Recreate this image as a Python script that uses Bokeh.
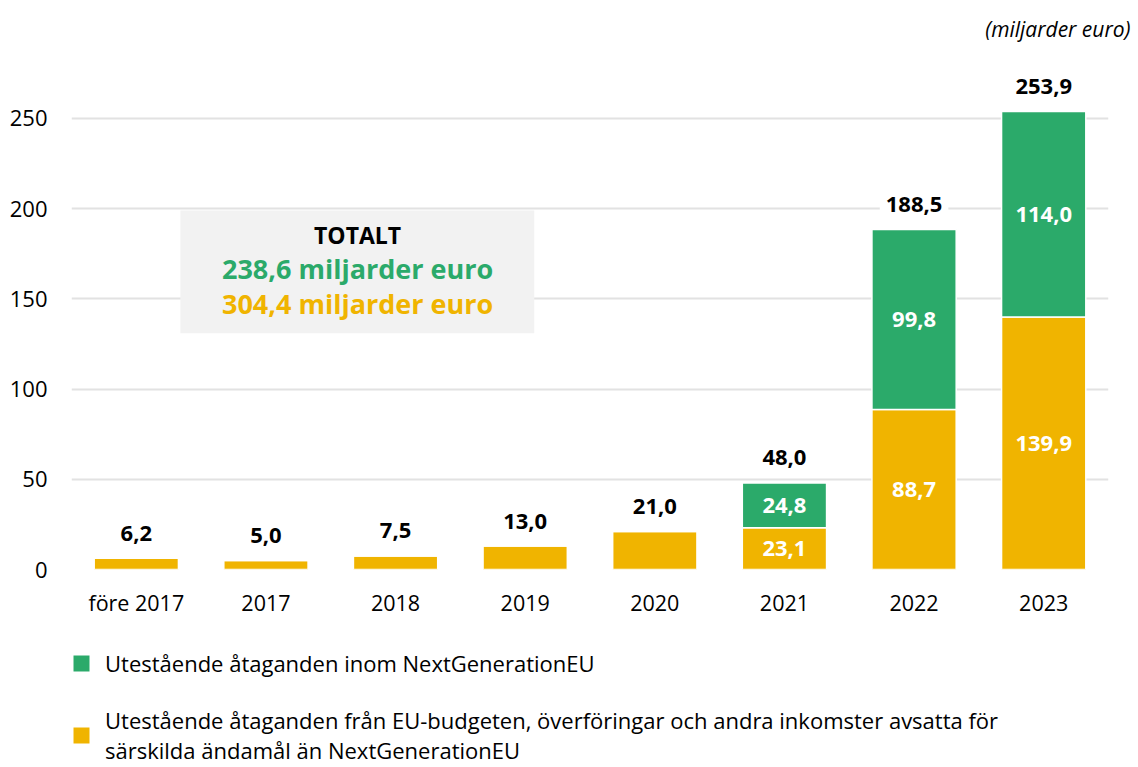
from bokeh.plotting import figure
from bokeh.layouts import column
from bokeh.models import (ColumnDataSource, FactorRange, Range1d, Legend, LegendItem,
                          FixedTicker)
from bokeh.core.properties import value
from bokeh.embed import file_html
from bokeh.resources import INLINE

# ---------------- data ----------------
categories = ["före 2017", "2017", "2018", "2019", "2020", "2021", "2022", "2023"]
budget = [6.2, 5.0, 7.5, 13.0, 21.0, 23.1, 88.7, 139.9]   # EU-budget etc. (yellow)
ngeu = [0.0, 0.0, 0.0, 0.0, 0.0, 24.8, 99.8, 114.0]       # NextGenerationEU (green)
totals = [6.2, 5.0, 7.5, 13.0, 21.0, 48.0, 188.5, 253.9]
y_ticks = [0, 50, 100, 150, 200, 250]
legend_labels = [
    "Utestående åtaganden inom NextGenerationEU",
    "Utestående åtaganden från EU-budgeten, överföringar och andra inkomster avsatta för\n"
    "särskilda ändamål än NextGenerationEU",
]
unit_label = "(miljarder euro)"

GREEN = "#2BAA6A"
YELLOW = "#F0B400"
FONT = "Open Sans"


def fmt(v):
    return f"{v:.1f}".replace(".", ",")


src = ColumnDataSource(dict(cat=categories, budget=budget, ngeu=ngeu))

p = figure(x_range=FactorRange(*categories), y_range=Range1d(0, 288.8),
           width=1138, height=628, output_backend="svg", toolbar_location=None,
           min_border_left=71, min_border_right=30, min_border_top=48,
           min_border_bottom=59)
p.x_range.range_padding = 0
p.outline_line_color = None
p.background_fill_color = "white"

p.title.text = unit_label
p.title.align = "right"
p.title.offset = -22
p.title.standoff = 11
p.title.text_font = FONT
p.title.text_font_style = "italic"
p.title.text_font_size = "21px"
p.title.text_color = "black"

p.vbar_stack(["budget", "ngeu"], x="cat", width=0.65, color=[YELLOW, GREEN],
             source=src, line_color="white", line_width=1.5)

# inner labels (only for stacked years)
idx = [i for i, v in enumerate(ngeu) if v > 0]
inner_b = ColumnDataSource(dict(cat=[categories[i] for i in idx],
                                y=[budget[i] / 2 for i in idx],
                                t=[fmt(budget[i]) for i in idx]))
inner_n = ColumnDataSource(dict(cat=[categories[i] for i in idx],
                                y=[budget[i] + ngeu[i] / 2 for i in idx],
                                t=[fmt(ngeu[i]) for i in idx]))
for s in (inner_b, inner_n):
    p.text(x="cat", y="y", text="t", source=s, text_align="center", text_baseline="middle",
           text_color="white", text_font=value(FONT), text_font_style="bold",
           text_font_size="22px")

# total labels
tot_src = ColumnDataSource(dict(cat=categories, y=totals, t=[fmt(v) for v in totals]))
p.text(x="cat", y="y", text="t", source=tot_src, text_align="center", text_baseline="middle",
       y_offset=-25, text_color="black", text_font=value(FONT), text_font_style="bold",
       text_font_size="22px", background_fill_color="white", padding=6)

# TOTALT box (x in synthetic category coordinates: 0..8)
p.quad(left=[0.84], right=[3.57], bottom=[131], top=[199],
       fill_color="#F2F2F2", line_color=None)
box_src = ColumnDataSource(dict(
    x=[2.207, 2.207, 2.207], y=[185.6, 166.6, 147.3],
    t=["TOTALT", f"{fmt(sum(ngeu))} miljarder euro", f"{fmt(sum(budget))} miljarder euro"],
    c=["black", GREEN, YELLOW], s=["23px", "27px", "27px"]))
p.text(x="x", y="y", text="t", source=box_src, text_align="center",
       text_baseline="middle", text_color="c", text_font=value(FONT), text_font_style="bold",
       text_font_size="s")

# axes and grid
p.yaxis.ticker = FixedTicker(ticks=y_ticks)
p.ygrid.ticker = FixedTicker(ticks=y_ticks)
p.ygrid.grid_line_color = "#E2E2E2"
p.ygrid.grid_line_width = 2
p.xgrid.grid_line_color = None
for ax in (p.xaxis, p.yaxis):
    ax.axis_line_color = None
    ax.major_tick_line_color = None
    ax.minor_tick_line_color = None
    ax.major_tick_out = 0
    ax.major_tick_in = 0
    ax.major_label_text_font = FONT
    ax.major_label_text_color = "black"
p.yaxis.major_label_text_font_size = "22px"
p.xaxis.major_label_text_font_size = "21.5px"
p.yaxis.major_label_standoff = 24
p.xaxis.major_label_standoff = 18

# ---------------- legend panel ----------------
# legend keys: the same series, muted (fully transparent) so no bar shows here
lg = figure(width=1138, height=137, output_backend="svg", toolbar_location=None,
            x_range=FactorRange(*categories), y_range=Range1d(1000, 1001),
            x_axis_location=None, y_axis_location=None,
            min_border_left=68, min_border_top=20, min_border_right=0, min_border_bottom=0)
lg.outline_line_color = None
lg.grid.visible = False
key_b, key_n = lg.vbar_stack(["budget", "ngeu"], x="cat", width=0.65,
                             color=[YELLOW, GREEN], source=src, line_color=None,
                             muted_alpha=0)
for r in (key_b, key_n):
    r.muted = True
legend = Legend(items=[LegendItem(label=legend_labels[0], renderers=[key_n]),
                       LegendItem(label=legend_labels[1], renderers=[key_b])],
                location="top_left", orientation="vertical", margin=0, padding=0,
                spacing=27, glyph_width=20, glyph_height=20, label_standoff=14,
                label_text_font=FONT, label_text_font_size="22px", label_text_color="black",
                border_line_color=None, background_fill_alpha=0)
lg.add_layout(legend)

open("out.html", "w").write(file_html(column(p, lg, spacing=0), INLINE))
